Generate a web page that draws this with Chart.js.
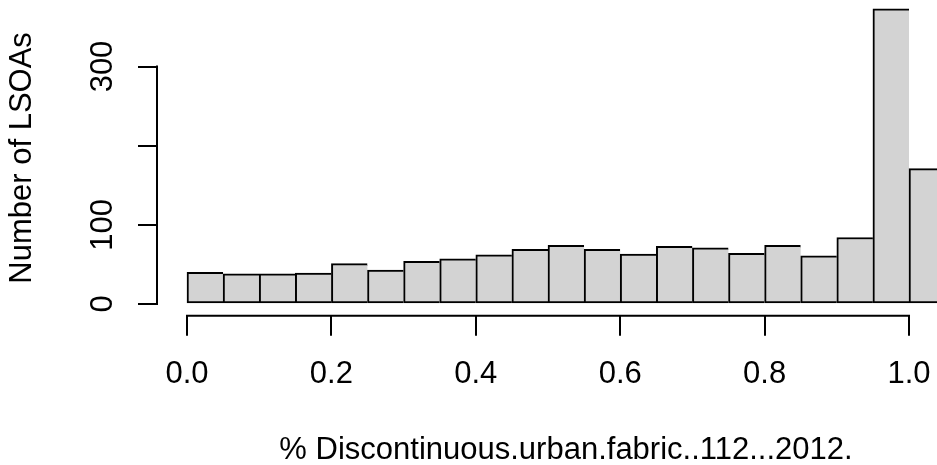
<!DOCTYPE html>
<html>
<head>
<meta charset="utf-8">
<script src="https://cdn.jsdelivr.net/npm/chart.js@4"></script>
<style>
  html, body { margin: 0; padding: 0; background: #fff; overflow: hidden; }
  #wrap { width: 975px; height: 465px; position: relative; }
</style>
</head>
<body>
<div id="wrap"><canvas id="c"></canvas></div>
<script>
// ---- data ----
const binStarts = [0.00, 0.05, 0.10, 0.15, 0.20, 0.25, 0.30, 0.35, 0.40, 0.45,
                   0.50, 0.55, 0.60, 0.65, 0.70, 0.75, 0.80, 0.85, 0.90, 0.95, 1.00];
const counts    = [40, 38, 38, 39, 51, 43, 54, 57, 62, 69,
                   74, 69, 63, 73, 71, 64, 74, 61, 84, 373, 171];
const binWidth  = 0.05;
const xTickValues = [0, 0.2, 0.4, 0.6, 0.8, 1.0];
const xTickLabels = ['0.0', '0.2', '0.4', '0.6', '0.8', '1.0'];
const yTickValues = [0, 100, 200, 300];
const yTickLabels = ['0', '100', '', '300'];
const xTitle = '% Discontinuous.urban.fabric..112...2012.';
const yTitle = 'Number of LSOAs';

Chart.defaults.font.family = '"Liberation Sans", Arial, Helvetica, sans-serif';
Chart.defaults.color = '#000';

const FS = 31;

const rAxes = {
  id: 'rAxes',
  afterDraw(chart) {
    const ctx = chart.ctx;
    const xs = chart.scales.x, ys = chart.scales.y;
    const ca = chart.chartArea;
    ctx.save();
    ctx.strokeStyle = '#000';
    ctx.lineWidth = 2;
    ctx.lineCap = 'butt';
    ctx.beginPath();
    const xa = xs.getPixelForValue(xTickValues[0]) - 1;
    const xb = xs.getPixelForValue(xTickValues[xTickValues.length - 1]) + 1;
    ctx.moveTo(xa, ca.bottom);
    ctx.lineTo(xb, ca.bottom);
    const ya = ys.getPixelForValue(yTickValues[0]) + 1;
    const yb = ys.getPixelForValue(yTickValues[yTickValues.length - 1]) - 1;
    ctx.moveTo(ca.left, ya);
    ctx.lineTo(ca.left, yb);
    ctx.stroke();
    ctx.restore();
  }
};

new Chart(document.getElementById('c'), {
  type: 'bar',
  data: {
    datasets: [{
      data: binStarts.map((s, i) => ({ x: s + binWidth / 2, y: counts[i] })),
      backgroundColor: '#D3D3D3',
      borderColor: '#000',
      borderWidth: { top: 2, left: 2, right: 0, bottom: 2 },
      borderSkipped: false,
      barPercentage: 1,
      categoryPercentage: 1
    }]
  },
  options: {
    responsive: true,
    maintainAspectRatio: false,
    animation: false,
    devicePixelRatio: 1,
    layout: { padding: 0 },
    plugins: { legend: { display: false }, tooltip: { enabled: false } },
    scales: {
      x: {
        type: 'linear',
        offset: false,
        min: -0.04155,
        max: 1.0914,
        afterBuildTicks: (s) => { s.ticks = xTickValues.map(v => ({ value: v })); },
        afterFit: (s) => { s.height = 149.2; s.paddingLeft = 0; s.paddingRight = 0; },
        grid: { offset: false, drawOnChartArea: false, drawTicks: true, tickLength: 20, color: '#000', lineWidth: 2 },
        border: { display: false },
        ticks: {
          autoSkip: false,
          maxRotation: 0,
          padding: 23.0,
          font: { size: FS, lineHeight: 1 },
          callback: (v, i) => xTickLabels[i]
        },
        title: {
          display: true,
          text: xTitle,
          font: { size: FS, lineHeight: 1 },
          padding: { top: 0, bottom: -0.5 }
        }
      },
      y: {
        type: 'linear',
        min: -14.9,
        max: 384.0,
        afterBuildTicks: (s) => { s.ticks = yTickValues.map(v => ({ value: v })); },
        afterFit: (s) => { s.width = 157; s.paddingTop = 0; s.paddingBottom = 0; },
        grid: { drawOnChartArea: false, drawTicks: true, tickLength: 19, color: '#000', lineWidth: 2 },
        border: { display: false },
        ticks: {
          autoSkip: false,
          minRotation: 90,
          maxRotation: 90,
          crossAlign: 'center',
          padding: 8.5,
          font: { size: FS, lineHeight: 1 },
          callback: (v, i) => yTickLabels[i]
        },
        title: {
          display: true,
          text: yTitle,
          font: { size: FS, lineHeight: 1 },
          padding: { top: 7.4, bottom: 0 }
        }
      }
    }
  },
  plugins: [rAxes]
});
</script>
</body>
</html>
